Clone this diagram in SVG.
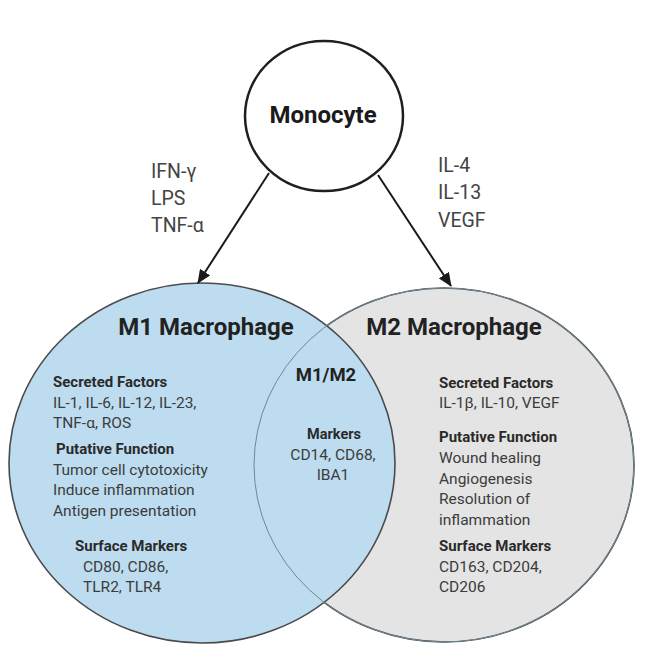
<svg xmlns="http://www.w3.org/2000/svg" width="666" height="665" viewBox="0 0 666 665">
  <defs>
    <marker id="ah" markerUnits="userSpaceOnUse" markerWidth="14" markerHeight="12" refX="13" refY="6" orient="auto">
      <path d="M0,0 L14,6 L0,12 z" fill="#1a1a1a"/>
    </marker>
    <style>
      text { font-family: Roboto, "Liberation Sans", Arial, sans-serif; }
      .title { font-size: 24px; font-weight: bold; fill: #222; }
      .head { font-size: 15px; font-weight: bold; fill: #2a2a2a; }
      .body { font-size: 15.5px; fill: #3c3c3c; }
      .stim { font-size: 19.5px; fill: #444; }
      .conn { stroke: #1a1a1a; stroke-width: 2; fill: none; marker-end: url(#ah); }
    </style>
  </defs>
  <rect width="666" height="665" fill="#ffffff"/>

  <g id="m2">
    <ellipse cx="444" cy="465" rx="190" ry="177" fill="#e4e4e4" stroke="#4a4a4a" stroke-width="1.6"/>
  </g>
  <g id="m1">
    <ellipse cx="202" cy="463" rx="193" ry="180" fill="#bddcf0" stroke="#4a4a4a" stroke-width="1.6"/>
  </g>
  <g id="m2-outline">
    <ellipse cx="444" cy="465" rx="190" ry="177" fill="none" stroke="#6f8796" stroke-width="1"/>
  </g>

  <g id="monocyte">
    <ellipse cx="324" cy="116" rx="79" ry="75" fill="#ffffff" stroke="#1f1f1f" stroke-width="2.5"/>
    <text x="323" y="123" text-anchor="middle" style="font-size:24px;font-weight:bold;fill:#1a1a1a">Monocyte</text>
  </g>

  <g id="connectors">
    <line class="conn" x1="269" y1="173" x2="198" y2="283"/>
    <line class="conn" x1="378" y1="175" x2="451" y2="286"/>
  </g>

  <g id="m1-stimuli">
    <text class="stim" x="151" y="178">IFN-γ</text>
    <text class="stim" x="151" y="205">LPS</text>
    <text class="stim" x="151" y="232">TNF-α</text>
  </g>
  <g id="m2-stimuli">
    <text class="stim" x="438" y="172">IL-4</text>
    <text class="stim" x="438" y="199">IL-13</text>
    <text class="stim" x="438" y="227">VEGF</text>
  </g>

  <g id="m1-text">
    <text class="title" x="206" y="335" text-anchor="middle">M1 Macrophage</text>
    <text class="head" x="53" y="387">Secreted Factors</text>
    <text class="body" x="53" y="408">IL-1, IL-6, IL-12, IL-23,</text>
    <text class="body" x="53" y="428">TNF-α, ROS</text>
    <text class="head" x="56" y="454">Putative Function</text>
    <text class="body" x="53" y="475">Tumor cell cytotoxicity</text>
    <text class="body" x="53" y="495">Induce inflammation</text>
    <text class="body" x="53" y="516">Antigen presentation</text>
    <text class="head" x="75" y="551">Surface Markers</text>
    <text class="body" x="83" y="572">CD80, CD86,</text>
    <text class="body" x="83" y="592">TLR2, TLR4</text>
  </g>

  <g id="overlap">
    <text x="326" y="381" text-anchor="middle" style="font-size:18.5px;font-weight:bold;fill:#222">M1/M2</text>
    <text x="334" y="439" text-anchor="middle" style="font-size:14.5px;font-weight:bold;fill:#2a2a2a">Markers</text>
    <text class="body" x="333" y="460" text-anchor="middle">CD14, CD68,</text>
    <text class="body" x="333" y="480" text-anchor="middle">IBA1</text>
  </g>

  <g id="m2-text">
    <text class="title" x="454" y="335" text-anchor="middle">M2 Macrophage</text>
    <text class="head" x="439" y="388">Secreted Factors</text>
    <text class="body" x="439" y="408">IL-1β, IL-10, VEGF</text>
    <text class="head" x="439" y="442">Putative Function</text>
    <text class="body" x="439" y="463">Wound healing</text>
    <text class="body" x="439" y="484">Angiogenesis</text>
    <text class="body" x="439" y="504">Resolution of</text>
    <text class="body" x="439" y="525">inflammation</text>
    <text class="head" x="439" y="551">Surface Markers</text>
    <text class="body" x="439" y="572">CD163, CD204,</text>
    <text class="body" x="439" y="592">CD206</text>
  </g>
</svg>
